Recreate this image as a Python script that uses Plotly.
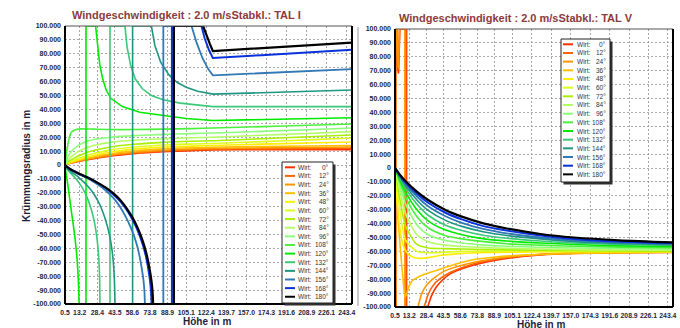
import plotly.graph_objects as go

W, H = 680, 328

ANGLES = [0, 12, 24, 36, 48, 60, 72, 84, 96, 108, 120, 132, 144, 156, 168, 180]
COLORS = ["#ff3000", "#ff6400", "#ff9600", "#ffbe00", "#ffee00", "#dcff1e", "#aaf000", "#b4ff64",
          "#8cff78", "#4bf03c", "#00eb00", "#3cc878", "#1e9682", "#3278b4", "#0a32dc", "#000000"]
WIDTHS = [1.6] * 13 + [1.8, 2.0, 2.2]

X_TICKS = [0.5, 13.2, 28.4, 43.5, 58.6, 73.8, 88.9, 105.1, 122.4, 139.7, 157.0, 174.3, 191.6, 208.9, 226.1, 243.4]
X_TICK_TEXT = ["0.5", "13.2", "28.4", "43.5", "58.6", "73.8", "88.9", "105.1", "122.4", "139.7",
               "157.0", "174.3", "191.6", "208.9", "226.1", "243.4"]
Y_TICKS = [100000, 90000, 80000, 70000, 60000, 50000, 40000, 30000, 20000, 10000, 0,
           -10000, -20000, -30000, -40000, -50000, -60000, -70000, -80000, -90000, -100000]
Y_TICK_TEXT = ["100.000", "90.000", "80.000", "70.000", "60.000", "50.000", "40.000", "30.000", "20.000",
               "10.000", "0", "-10.000", "-20.000", "-30.000", "-40.000", "-50.000", "-60.000", "-70.000",
               "-80.000", "-90.000", "-100.000"]

TITLE_LEFT = "Windgeschwindigkeit : 2.0 m/sStabkl.: TAL I"
TITLE_RIGHT = "Windgeschwindigkeit : 2.0 m/sStabkl.: TAL V"
X_TITLE = "Höhe in m"
Y_TITLE = "Krümmungsradius in m"
LEGEND_WORD = "Wirt:"

# ---------------- Left panel (TAL I), heights in m, radii in 1000 m ----------------
L_H_SMOOTH = [0.5, 3, 8, 15, 25, 40, 60, 85, 110, 128, 170, 210, 248]
L_V_000 = [0, 0.8, 1.8, 3.0, 4.5, 6.5, 8.2, 9.5, 10.3, 10.8, 11.0, 11.0, 11.0]
L_V_012 = [0, 0.85, 1.9, 3.2, 4.8, 6.9, 8.6, 10.0, 10.9, 11.3, 11.6, 11.8, 12.0]
L_V_024 = [0, 0.9, 2.0, 3.4, 5.1, 7.3, 9.1, 10.6, 11.5, 11.9, 12.3, 12.6, 13.0]
L_V_036 = [0, 1.0, 2.3, 3.9, 5.8, 8.1, 10.1, 11.6, 12.4, 12.8, 13.3, 13.7, 14.0]
L_V_048 = [0, 1.2, 2.7, 4.6, 6.8, 9.3, 11.4, 12.9, 13.6, 14.0, 15.0, 15.8, 16.5]
L_V_060 = [0, 1.5, 3.4, 5.6, 8.2, 10.9, 12.9, 14.4, 15.1, 15.5, 16.8, 18.1, 19.4]
L_V_072 = [0, 2.2, 4.8, 7.6, 10.4, 13.0, 14.9, 16.3, 17.1, 17.5, 18.9, 20.3, 21.6]
L_V_084 = [0, 3.5, 7.5, 11.0, 14.0, 16.3, 17.8, 18.9, 19.6, 20.0, 21.4, 22.7, 24.0]
L_V_096 = [0, 6.0, 11.5, 15.5, 18.3, 20.0, 21.1, 22.0, 22.6, 23.0, 24.2, 25.4, 26.6]
L_H_108 = [0.5, 2, 4, 6, 10, 15, 25, 40, 60, 85, 110, 128, 170, 210, 248]
L_V_108 = [0, 10, 19, 23.5, 25.5, 26, 25.8, 25.5, 25.5, 25.8, 26.2, 26.6, 27.6, 28.6, 29.5]

L_H_120 = [0.5, 0.9, 1.4, 2.0, 2.6, 3.3, 4.0, 4.8, 5.7, 6.7, 7.8, 8.9, 9.9, 10.8, 11.5, 12.0, 12.4, 12.6,
           18.6, 18.6, 26.9, 28.5, 30.5, 33, 36, 40, 50, 65, 85, 105, 128, 170, 210, 248]
L_V_120 = [0, -3, -6, -9, -12.5, -16.5, -21, -26, -31.5, -37.5, -44, -51, -58.5, -66.5, -75, -83, -91, -100,
           -100, 100, 100, 85, 72, 62, 54, 48, 42, 38, 35.5, 33.5, 32, 32.7, 33.3, 34]
L_H_132 = [0.5, 2.2, 5.5, 9, 12.3, 15.5, 18.3, 20.8, 23, 24.9, 26.5, 27.8, 28.8, 29.6, 30.1, 30.4, 30.5, 30.6,
           39.3, 39.3, 52.2, 54, 57, 61, 67, 75, 85, 100, 128, 170, 210, 248]
L_V_132 = [0, -3, -6, -9, -12.5, -16.5, -21, -26, -31.5, -37.5, -44, -51, -58.5, -66.5, -75, -83, -91, -100,
           -100, 100, 100, 85, 72, 62, 55, 50, 47, 44.5, 42, 42, 42, 42]
L_H_144 = [0.5, 3, 7.5, 12.5, 17, 21.5, 25.5, 29, 32, 34.7, 37, 39, 40.6, 41.8, 42.6, 43.1, 43.4, 43.6,
           58.8, 58.8, 75, 78, 83, 90, 97, 105, 115, 128, 170, 210, 248]
L_V_144 = [0, -3, -6, -9, -12.5, -16.5, -21, -26, -31.5, -37.5, -44, -51, -58.5, -66.5, -75, -83, -91, -100,
           -100, 100, 100, 86, 74, 65, 59.5, 56, 53, 51, 52, 53, 54]
L_H_156 = [0.5, 4.5, 11, 18.5, 26, 33, 39, 44.5, 49, 53, 56.7, 60, 62.8, 65, 66.8, 68.2, 69, 69.4,
           85.3, 85.3, 109.6, 114, 119, 124, 128, 170, 210, 248]
L_V_156 = [0, -3, -6, -9, -12.5, -16.5, -21, -26, -31.5, -37.5, -44, -51, -58.5, -66.5, -75, -83, -91, -100,
           -100, 100, 100, 88, 77, 69, 64.5, 66, 67.5, 69]
L_H_168 = [0.5, 5, 12, 20, 28, 35.5, 42, 48, 53, 57.5, 61.5, 65, 68, 70.5, 72.4, 73.8, 74.7, 75.2,
           92.7, 92.7, 118.2, 121, 124.5, 128, 170, 210, 248]
L_V_168 = [0, -3, -6, -9, -12.5, -16.5, -21, -26, -31.5, -37.5, -44, -51, -58.5, -66.5, -75, -83, -91, -100,
           -100, 100, 100, 91, 83, 77, 79, 81, 83]
L_H_180 = [0.5, 5, 12, 20, 28, 36, 43, 49, 54, 58.5, 62.5, 66, 69, 71.5, 73.5, 75, 76, 76.5,
           94.4, 94.4, 119.6, 122.5, 125.5, 128, 170, 210, 248]
L_V_180 = [0, -3, -6, -9, -12.5, -16.5, -21, -26, -31.5, -37.5, -44, -51, -58.5, -66.5, -75, -83, -91, -100,
           -100, 100, 100, 93, 87, 82, 84, 86, 88]

# ---------------- Right panel (TAL V) ----------------
R_H_000 = [0.5, 1.1, 1.1, 2.0, 2.8, 3.6, 4.8, 10.8, 10.8, 29.6, 33, 37, 41, 50, 70, 100, 130, 160, 200, 248]
R_V_000 = [0, -100, 100, 100, 72, 68, 100, 100, -100, -100, -92, -86, -82, -76, -70, -65, -62.5, -61.5, -61, -60.7]
R_H_012 = [0.5, 1.0, 1.0, 1.9, 2.7, 3.5, 4.6, 10.0, 10.0, 26.5, 30, 34, 40, 50, 70, 100, 130, 160, 200, 248]
R_V_012 = [0, -100, 100, 100, 74, 70, 100, 100, -100, -100, -91, -85, -80, -75, -69, -64.5, -62.3, -61.3, -60.8, -60.5]
R_H_024 = [0.5, 0.9, 0.9, 1.8, 2.6, 3.4, 4.5, 9.3, 9.3, 21, 24, 28, 34, 45, 70, 100, 130, 160, 200, 248]
R_V_024 = [0, -100, 100, 100, 76, 72, 100, 100, -100, -100, -91, -85, -80, -74, -68, -64, -62, -61, -60.6, -60.3]
R_H_036 = [0.5, 2, 4, 6, 8, 9.5, 11, 13, 16, 20, 25, 32, 40, 55, 70, 90, 120, 160, 248]
R_V_036 = [0, -22, -45, -65, -83, -93, -90, -85, -81, -79, -77, -75, -73, -69, -66, -64, -62.5, -61.5, -60.5]
R_H_048 = [0.5, 2, 4, 6, 9, 13, 18, 24, 30, 40, 55, 75, 100, 140, 200, 248]
R_V_048 = [0, -20, -38, -50, -58, -62.5, -64.5, -65, -64.5, -63, -61.8, -61, -60.5, -60.3, -60.2, -60.2]
R_H_SMOOTH = [0.5, 5, 10, 20, 30, 45, 60, 80, 100, 130, 160, 200, 248]
R_V_060 = [0, -32, -52, -60, -61, -60.5, -60, -59.8, -59.8, -59.9, -60, -60, -60]
R_V_072 = [0, -23, -42, -55, -57.5, -58, -58.3, -58.6, -58.9, -59.2, -59.4, -59.6, -59.8]
R_V_084 = [0, -17, -33, -48, -53, -55.5, -56.5, -57.3, -57.8, -58.3, -58.7, -59, -59.2]
R_V_096 = [0, -13, -26, -41, -48, -52, -54, -55.5, -56.3, -57, -57.5, -58, -58.2]
R_V_108 = [0, -10.5, -21, -35, -43, -48.5, -51, -53, -54.5, -55.5, -56.3, -57, -57.3]
R_V_120 = [0, -9, -17.5, -30, -38, -44.5, -48, -51, -52.5, -54, -55, -56, -56.5]
R_V_132 = [0, -7.8, -15, -26, -34, -41, -45, -48.5, -50.5, -52.5, -54, -55, -55.8]
R_V_144 = [0, -6.8, -13, -23, -30.5, -37.5, -42, -46, -48.5, -51, -53, -54.3, -55.2]
R_V_156 = [0, -6, -11.5, -20.5, -27.5, -34.5, -39.5, -44, -47, -50, -52, -53.5, -54.5]
R_V_168 = [0, -5.5, -10.5, -18.5, -25, -32, -37, -42, -45, -48.5, -51, -52.8, -54]
R_V_180 = [0, -5, -9.5, -17, -23, -30, -35, -40, -43.5, -47.5, -50, -52, -53.5]

LEFT_SERIES = [
    (L_H_SMOOTH, L_V_000), (L_H_SMOOTH, L_V_012), (L_H_SMOOTH, L_V_024), (L_H_SMOOTH, L_V_036),
    (L_H_SMOOTH, L_V_048), (L_H_SMOOTH, L_V_060), (L_H_SMOOTH, L_V_072), (L_H_SMOOTH, L_V_084),
    (L_H_SMOOTH, L_V_096), (L_H_108, L_V_108), (L_H_120, L_V_120), (L_H_132, L_V_132),
    (L_H_144, L_V_144), (L_H_156, L_V_156), (L_H_168, L_V_168), (L_H_180, L_V_180)]
RIGHT_SERIES = [
    (R_H_000, R_V_000), (R_H_012, R_V_012), (R_H_024, R_V_024), (R_H_036, R_V_036), (R_H_048, R_V_048),
    (R_H_SMOOTH, R_V_060), (R_H_SMOOTH, R_V_072), (R_H_SMOOTH, R_V_084), (R_H_SMOOTH, R_V_096),
    (R_H_SMOOTH, R_V_108), (R_H_SMOOTH, R_V_120), (R_H_SMOOTH, R_V_132), (R_H_SMOOTH, R_V_144),
    (R_H_SMOOTH, R_V_156), (R_H_SMOOTH, R_V_168), (R_H_SMOOTH, R_V_180)]


def segments(hs, vs, after_shape):
    """Split a series at the clipped (+/-100) part: smooth branches, straight pole/clipped part."""
    clipped = [i for i, v in enumerate(vs) if abs(v) >= 100]
    if not clipped:
        return [(hs, vs, "spline")]
    a, b = clipped[0], clipped[-1]
    return [(hs[:a + 1], vs[:a + 1], "spline"), (hs[a:b + 1], vs[a:b + 1], "linear"),
            (hs[b:], vs[b:], after_shape)]


fig = go.Figure()
for panel, (xa, ya), after in ((LEFT_SERIES, ("x", "y"), "linear"), (RIGHT_SERIES, ("x2", "y2"), "spline")):
    for (hs, vs), col, wd, a in zip(panel, COLORS, WIDTHS, ANGLES):
        for sh, sv, shape in segments(hs, vs, after):
            fig.add_trace(go.Scatter(x=sh, y=[v * 1000 for v in sv], mode="lines", xaxis=xa, yaxis=ya,
                                     line=dict(color=col, width=wd, shape=shape, smoothing=0.7),
                                     name=f"Wirt: {a}°", showlegend=False, hoverinfo="skip"))


def px(x):
    return x / W


def py(y):
    return 1 - y / H


ytickfont = dict(family="Liberation Sans, Arial, sans-serif", size=7, color="#1e1e3c", weight="bold")
xtickfont = dict(family="Liberation Sans, Arial, sans-serif", size=6.8, color="#1e1e3c", weight="bold")
grid = dict(showgrid=True, gridcolor="#a8a8a8", gridwidth=1, griddash="2px,2px", zeroline=False,
            showline=False, ticks="", automargin=False)

fig.update_layout(
    width=W, height=H, autosize=False, margin=dict(l=0, r=0, t=0, b=0),
    paper_bgcolor="white", plot_bgcolor="white", showlegend=False,
    xaxis=dict(domain=[px(65), px(352)], range=[0.5, 248], tickvals=X_TICKS, ticktext=X_TICK_TEXT,
               anchor="y", ticklabelstandoff=3, tickangle=0, tickfont=xtickfont, **grid),
    yaxis=dict(domain=[py(304), py(26)], range=[-100000, 100000], tickvals=Y_TICKS, ticktext=Y_TICK_TEXT,
               anchor="x", ticklabelstandoff=3, tickfont=ytickfont, **grid),
    xaxis2=dict(domain=[px(395), px(673)], range=[0.5, 248], tickvals=X_TICKS, ticktext=X_TICK_TEXT,
                anchor="y2", ticklabelstandoff=3, tickangle=0, tickfont=xtickfont, **grid),
    yaxis2=dict(domain=[py(307), py(29)], range=[-100000, 100000], tickvals=Y_TICKS, ticktext=Y_TICK_TEXT,
                anchor="x2", ticklabelstandoff=3, tickfont=ytickfont, **grid),
)

shapes = []
for xa, ya in (("x", "y"), ("x2", "y2")):
    xd, yd = f"{xa} domain", f"{ya} domain"
    shapes.append(dict(type="line", xref=xd, yref=yd, x0=0, x1=1, y0=1, y1=1, line=dict(color="#555555", width=1)))
    shapes.append(dict(type="line", xref=xd, yref=yd, x0=0, x1=0, y0=0, y1=1, line=dict(color="black", width=2)))
    shapes.append(dict(type="line", xref=xd, yref=yd, x0=0, x1=1, y0=0, y1=0, line=dict(color="black", width=2)))
    shapes.append(dict(type="line", xref=xd, yref=yd, x0=1, x1=1, y0=0, y1=1, line=dict(color="black", width=2)))
# left window edge
shapes.append(dict(type="line", xref="paper", yref="paper", x0=px(358), x1=px(358), y0=py(27), y1=py(306),
                   line=dict(color="#9a9a9a", width=1)))

annotations = []
legend_font = dict(family="Liberation Sans, Arial, sans-serif", size=6.5, color="#333333")


def add_legend(bx0, by0, bx1, by1, row0, step, lx0, lx1, tx, ax):
    shapes.append(dict(type="rect", xref="paper", yref="paper", x0=px(bx0 + 2.5), x1=px(bx1 + 2.5),
                       y0=py(by1 + 2.5), y1=py(by0 + 2.5), fillcolor="#303030", line=dict(width=0)))
    shapes.append(dict(type="rect", xref="paper", yref="paper", x0=px(bx0), x1=px(bx1),
                       y0=py(by1), y1=py(by0), fillcolor="white", line=dict(color="#222222", width=1)))
    for i, (a, c) in enumerate(zip(ANGLES, COLORS)):
        yy = row0 + i * step
        shapes.append(dict(type="line", xref="paper", yref="paper", x0=px(lx0), x1=px(lx1), y0=py(yy), y1=py(yy),
                           line=dict(color=c, width=2)))
        annotations.append(dict(xref="paper", yref="paper", x=px(tx), y=py(yy), text=LEGEND_WORD, showarrow=False,
                                xanchor="left", yanchor="middle", font=legend_font))
        annotations.append(dict(xref="paper", yref="paper", x=px(ax), y=py(yy), text=f"{a}°", showarrow=False,
                                xanchor="right", yanchor="middle", font=legend_font))


add_legend(282, 162, 333, 303, 167.3, 8.63, 285, 295, 296, 331)
add_legend(561, 39, 610, 182, 44.3, 8.67, 563, 573, 575, 608)

title_font = dict(family="Liberation Sans, Arial, sans-serif", size=11, color="#8b3b3b", weight="bold")
axis_title_font = dict(family="Liberation Sans, Arial, sans-serif", size=10, color="#1e1e3c", weight="bold")
annotations.append(dict(xref="paper", yref="paper", x=px(186), y=py(15), text=TITLE_LEFT, showarrow=False,
                        xanchor="center", yanchor="middle", font=title_font))
annotations.append(dict(xref="paper", yref="paper", x=px(516), y=py(18), text=TITLE_RIGHT, showarrow=False,
                        xanchor="center", yanchor="middle", font=title_font))
annotations.append(dict(xref="paper", yref="paper", x=px(207), y=py(321.5), text=X_TITLE, showarrow=False,
                        xanchor="center", yanchor="middle", font=axis_title_font))
annotations.append(dict(xref="paper", yref="paper", x=px(541), y=py(324), text=X_TITLE, showarrow=False,
                        xanchor="center", yanchor="middle", font=axis_title_font))
annotations.append(dict(xref="paper", yref="paper", x=px(26), y=py(166), text=Y_TITLE, showarrow=False,
                        textangle=-90, xanchor="center", yanchor="middle", font=axis_title_font))

fig.update_layout(shapes=shapes, annotations=annotations)
fig.write_html("out.html", config={"displayModeBar": False},
               post_script="document.body.style.margin='0';document.body.style.padding='0';"
                           "document.body.style.overflow='hidden';")
